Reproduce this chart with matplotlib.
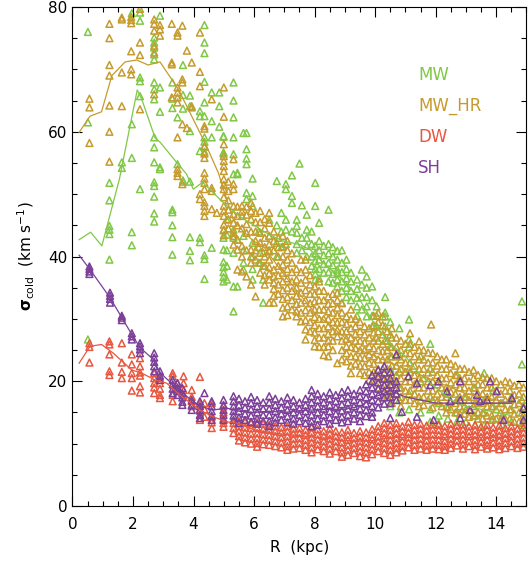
import numpy as np
import matplotlib
matplotlib.use("Agg")
import matplotlib.pyplot as plt
from matplotlib.ticker import MultipleLocator

# cold-gas velocity dispersion vs radius, four runs
# each entry: (R [kpc], [sigma values at that radius])
mw_cols = [
    (0.51, [76, 61.5, 26.7]),
    (1.22, [51.8, 49, 44.9, 44.3, 43.6, 39.5]),
    (1.63, [55.1, 54.2]),
    (1.96, [79, 61.2, 55.8, 43.9, 41.8]),
    (2.23, [79.1, 77.8, 68.7, 68.1, 65.7, 50.8]),
    (2.7, [75.1, 74.3, 73.5, 72.4, 71.6, 67.9, 66.8, 65.2, 59.1, 57.5, 55.1, 51.9, 51.3, 49.6, 46.9, 45.6]),
    (2.89, [78.6, 67.1, 63.2, 54.3, 54]),
    (3.3, [67.9, 65.3, 63.8, 47.5, 47.1, 45, 43.1, 40.3]),
    (3.47, [62.3, 54.8]),
    (3.65, [70.7, 65.9, 63.7, 52.2, 52]),
    (3.88, [65.8, 64.1, 60.1, 52, 43.1, 40.9, 39.4]),
    (4.21, [63.3, 62.5, 56.9, 43, 42.3]),
    (4.36, [77.1, 74.3, 72.6, 68, 64.7, 62.5, 59.1, 58.4, 57.6, 56.8, 40.2, 39.6, 36.4]),
    (4.6, [66.3, 61.7, 59.1, 41.4]),
    (4.85, [66.3, 64.1, 60.8]),
    (4.99, [59.3, 59.2, 56.7, 56.5, 44.2, 43, 41.1, 39.1, 38.3, 37.5, 36.7, 36]),
    (5.1, [45.9, 43.5, 41, 38.5, 36.3]),
    (5.32, [67.9, 65, 62.3, 59.1, 56.4, 53.2, 44.3, 43, 40.6, 35.2, 31.2]),
    (5.45, [53.4, 53.2, 42.7, 35.2]),
    (5.65, [59.8, 43.3, 41, 39, 37.9]),
    (5.75, [59.8, 57.2, 55.7, 54.8, 50.2, 49.2]),
    (5.95, [52.5, 49.7, 48.1, 42.2, 40, 38, 36.3]),
    (6.15, [44, 41.5, 39]),
    (6.3, [40.6, 38.5, 36.3, 32.6]),
    (6.5, [45.9, 43.3, 41]),
    (6.75, [52.1, 45, 42.2, 40]),
    (6.9, [47, 44, 41.5]),
    (7.05, [51.6, 50.8, 45.9, 44.3, 42]),
    (7.25, [53, 49.7, 48.6, 44]),
    (7.41, [45.9, 44.9, 43.8, 42, 40.6]),
    (7.5, [54.9]),
    (7.58, [48.2, 43, 41]),
    (7.74, [46.7, 44.3, 43, 41.7, 40]),
    (7.9, [44, 42, 40, 38.5]),
    (8.02, [51.8, 48.1, 41.7, 40.5, 39.3, 38, 37.2, 36.3]),
    (8.15, [45.4, 42.5, 41, 39.5, 38, 36.5]),
    (8.3, [41.7, 40.2, 38.8, 37.4]),
    (8.46, [47.5, 42, 40.5, 39, 37.5, 36]),
    (8.6, [41.5, 40, 38.6, 37.2, 35.8]),
    (8.75, [40.9, 39.5, 37.9, 37.4, 36.3, 35.2]),
    (8.9, [41, 39, 37.5, 36, 34.5, 32.6]),
    (9.05, [39.5, 38, 36.5, 35, 33.5]),
    (9.2, [37.4, 36, 34.5, 33]),
    (9.4, [36.3, 34.8, 33.4, 32, 30.5]),
    (9.56, [37.9, 35.5, 33.5, 31.5]),
    (9.72, [36.8, 35, 33.5, 32, 30.4]),
    (9.9, [35.2, 33, 30.5, 28.8]),
    (10.05, [32, 30.5, 28.8, 27]),
    (10.33, [33.5, 31, 30.4, 28.8, 26.5]),
    (10.5, [29.5, 27.5, 25.5, 24, 22, 20, 18, 16]),
    (10.8, [28.5, 24, 21.5, 19, 17, 15]),
    (11.12, [29.9, 26.7, 25.5, 22, 18, 15.5]),
    (11.5, [24, 20, 17, 15]),
    (11.82, [26, 22, 17.5, 15.5, 13.5]),
    (12.1, [20, 16.5, 14.5, 13.3]),
    (12.4, [18, 15.8, 14]),
    (12.7, [21, 17, 15, 13.5]),
    (13.0, [17.5, 15.5, 13.5]),
    (13.3, [19, 16.5, 14.5, 13]),
    (13.6, [21.3, 17, 15, 13]),
    (13.9, [18.5, 16, 14]),
    (14.2, [16.5, 14.5, 13]),
    (14.5, [17.5, 15.5, 13.5]),
    (14.85, [32.8, 22.7, 17, 15, 13]),
]

hr_cols = [
    (0.56, [65.3, 63.9, 58.2]),
    (1.22, [77.3, 75, 70.7, 69, 64.2, 60, 55.2]),
    (1.63, [78.3, 78, 69.5, 64.1]),
    (1.94, [78.4, 77.9, 77.4, 72.9, 70, 69.2]),
    (2.23, [79.7, 74.3, 72.3, 63.6]),
    (2.7, [78, 77.3, 76.2, 73.8, 72.7, 66]),
    (2.89, [77.1, 76.4, 75.4]),
    (3.28, [77.3, 71.1, 70.8, 65.5]),
    (3.47, [75.9, 75.4, 67.1, 66.3, 65.5, 64.7, 59.1, 54, 53.4, 52.9]),
    (3.63, [77, 68.4, 67.9, 61.2, 51.6]),
    (3.78, [73, 60.6]),
    (3.94, [71.1, 64.1, 63.9]),
    (4.21, [75.9, 69.6, 67.3, 50, 49.2]),
    (4.36, [60.9, 60.5, 57.7, 56.5, 55.8, 53.4, 52.5, 51.8, 50.8, 48.7, 48.1, 47.3, 46.5]),
    (4.6, [65.2, 51, 50.5, 47.6]),
    (4.77, [47]),
    (5.0, [67.1, 62.4, 58, 56.1, 55.3, 54.5, 53.7, 52.4, 51.5, 50.8, 49.5, 48.1, 47.3, 46.5, 45.1, 44.3, 43.4]),
    (5.15, [52, 50.5, 49, 47.5, 46, 44.5]),
    (5.32, [55.6, 51.6, 50.8, 48.1, 46.8, 45.4, 43.8, 43.3, 41.9]),
    (5.45, [48, 46.5, 45, 42.7, 41.1, 37.9]),
    (5.6, [48.1, 47.2, 46.5, 44.5, 41.7, 40, 37.6]),
    (5.75, [48, 46.7, 45.2, 43.8, 41, 36.8]),
    (5.9, [48.6, 47.3, 46, 44, 41.1, 40, 39, 35.5]),
    (6.05, [47, 45.5, 44, 42.5, 41, 39.5, 33.6]),
    (6.2, [47.3, 45.5, 43.8, 42.2, 40.6, 39, 37.4]),
    (6.35, [46, 44.5, 43, 41.5, 40, 38.5, 37, 35.5]),
    (6.5, [47, 45.4, 43.3, 42, 40.8, 39.5, 38.3, 37.3, 36.3, 32.6]),
    (6.65, [44, 42.5, 41, 37.9, 36.8, 35.8, 34.8, 33.7, 32.6]),
    (6.8, [43, 41.5, 40, 38.5, 37, 35.5, 34]),
    (6.95, [43.3, 41.6, 40, 38.7, 37.4, 36, 34.6, 33.2, 31.8, 30.4]),
    (7.1, [42.5, 41, 39.5, 38, 36.5, 35, 33.5, 32, 30.6]),
    (7.25, [40.5, 39, 37.5, 36, 34.5, 33, 31.5]),
    (7.4, [38, 36.3, 35, 33.7, 32.4, 31.2, 30.4]),
    (7.55, [39.5, 37.5, 35.8, 34.2, 32.6, 31, 29.6]),
    (7.7, [39.5, 37.9, 36.3, 34.6, 33, 31.4, 29.8, 28.3, 26.7]),
    (7.85, [37, 35.5, 34, 32.5, 31, 29.5, 28]),
    (8.0, [35.2, 34, 32.8, 31.5, 30.3, 29, 27.8, 26.6, 25.6]),
    (8.15, [36, 34.5, 33, 31.5, 30, 28.5, 27, 25.5]),
    (8.3, [34.5, 33, 31.5, 30, 28.5, 27, 25.5, 24.2]),
    (8.45, [33.6, 32.4, 31.2, 30, 28.8, 27.6, 26.5, 25.6, 24]),
    (8.6, [34, 32.5, 31, 29.5, 28, 26.5, 25]),
    (8.75, [34.2, 33, 31.8, 30.6, 29.4, 28.2, 27.2, 22.9]),
    (8.9, [32.5, 31, 29.5, 28, 26.5, 25, 23.5]),
    (9.05, [30.4, 29.2, 28, 26.8, 25.6, 24.5, 23.2]),
    (9.2, [31.5, 30, 28.5, 27, 25.5, 24, 22.5, 21.3]),
    (9.35, [30, 28.8, 27.6, 26.5, 25.3, 24, 22.8]),
    (9.5, [29.5, 28, 26.5, 25, 23.8, 22.5, 21.3]),
    (9.65, [28.8, 27.5, 26.2, 25, 23.7, 22.4, 21]),
    (9.8, [28.5, 27, 25.6, 24.3, 23, 21.5, 20.2]),
    (9.95, [30.5, 29, 27.8, 26.5, 25.3, 24, 22.8, 21.5, 20.2]),
    (10.1, [31, 29.5, 28, 26.5, 25, 23.5, 22, 20.5, 19]),
    (10.25, [30.4, 29, 27.5, 26, 24.8, 23.5, 22, 20.5, 19, 17.5]),
    (10.4, [28, 26.5, 25, 23.5, 22, 20.5, 19, 17.8]),
    (10.55, [28.5, 27, 25.5, 24, 22.5, 21, 19.5, 18, 16.5]),
    (10.7, [27, 25.5, 24, 22.5, 21, 19.5, 18]),
    (10.85, [26.5, 25, 23.5, 22, 20.5, 19, 17.5, 16]),
    (11.0, [26, 24.5, 23, 21.5, 20, 18.5, 17]),
    (11.15, [27.7, 26, 24.5, 23, 21.5, 20, 18.5, 17]),
    (11.3, [25.5, 24, 22.5, 21, 19.5, 18, 16.5]),
    (11.45, [26.4, 25, 23.5, 22, 20.5, 19, 17.5, 16]),
    (11.6, [25, 23.5, 22, 20.5, 19, 17.5, 16.2]),
    (11.75, [24.6, 23, 21.4, 20, 18.5, 17]),
    (11.85, [29.1]),
    (11.9, [24.5, 23, 21.5, 20, 18.5, 17, 15.8]),
    (12.05, [24, 22.5, 21, 19.5, 18, 16.8]),
    (12.2, [23.5, 22, 20.5, 19, 17.5, 16]),
    (12.35, [23.5, 22, 20.5, 19, 17.5, 16, 15]),
    (12.5, [22.8, 21.3, 19.8, 18.3, 16.8, 15.5]),
    (12.65, [24.5, 22.5, 21, 19.5, 18, 16.5, 15]),
    (12.8, [22, 20.5, 19, 17.5, 16, 14.8]),
    (12.95, [22, 20.5, 19, 17.5, 16, 14.8]),
    (13.1, [21.5, 20, 18.5, 17, 15.5, 14.3]),
    (13.25, [21.8, 20.5, 19, 17.5, 16, 14.5]),
    (13.4, [21, 19.5, 18, 16.5, 15, 14]),
    (13.55, [20.7, 19.5, 18, 16.5, 15, 14]),
    (13.7, [20.5, 19, 17.5, 16, 14.5]),
    (13.85, [20.5, 19, 17.5, 16, 14.5, 13.8]),
    (14.0, [20, 18.5, 17, 15.5, 14]),
    (14.15, [19.5, 18, 16.5, 15, 13.8]),
    (14.3, [20, 18.5, 17, 15.5, 14]),
    (14.45, [19.8, 18.5, 17, 15.5, 14]),
    (14.6, [19.3, 17.8, 16.3, 14.8, 13.5]),
    (14.75, [19.5, 18, 16.5, 15, 13.5]),
    (14.9, [19, 17.5, 16, 14.5, 13.3]),
]

dw_cols = [
    (0.56, [26.1, 25.5, 23]),
    (1.22, [26.4, 25.9, 24.3, 21.6, 21]),
    (1.63, [26.1, 23, 21.5, 20.5]),
    (1.96, [24.3, 22.7, 21.3, 20.5, 18.5]),
    (2.23, [23.7, 22.4, 21.4, 20.9, 19.2, 18.2]),
    (2.7, [21.3, 20.5, 19.7, 19, 18.1]),
    (2.89, [20.6, 19.7, 18.8, 17.8, 17.3]),
    (3.31, [21.3, 20.8, 17.8, 16.8]),
    (3.47, [19.7, 18.9]),
    (3.67, [20.8, 19.7, 18.6, 17.8]),
    (3.94, [18.6, 17.5, 16.8, 16]),
    (4.21, [20.7, 16.5, 15.5, 14.6, 13.8]),
    (4.36, [16.5, 15.5, 14.3]),
    (4.6, [16.5, 14.3, 13.4, 12.5]),
    (4.99, [16, 15, 14, 13.3, 12.7]),
    (5.32, [13.3, 12.5, 11.7]),
    (5.5, [13.6, 12.8, 12, 11.2, 10.5]),
    (5.7, [13.5, 12.6, 11.8, 11, 10.2]),
    (5.9, [13.3, 12.5, 11.6, 10.8, 10]),
    (6.1, [13.4, 12.5, 11.7, 10.9, 10.1, 9.5]),
    (6.3, [13.2, 12.3, 11.5, 10.7, 9.9]),
    (6.5, [13, 12.2, 11.4, 10.6, 9.8]),
    (6.7, [12.8, 12, 11.2, 10.4, 9.6]),
    (6.9, [12.6, 11.8, 11, 10.2, 9.4]),
    (7.1, [12.8, 12, 11.2, 10.4, 9.6, 9]),
    (7.3, [12.4, 11.6, 10.8, 10, 9.2]),
    (7.5, [12.5, 11.7, 10.9, 10.1, 9.3]),
    (7.7, [12.2, 11.4, 10.6, 9.8, 9]),
    (7.9, [12.6, 11.8, 11, 10.2, 9.4, 8.6]),
    (8.1, [12.3, 11.5, 10.7, 9.9, 9.1]),
    (8.3, [12, 11.2, 10.4, 9.6, 8.8]),
    (8.5, [12.4, 11.6, 10.8, 10, 9.2, 8.4]),
    (8.7, [12, 11.2, 10.4, 9.6, 8.8]),
    (8.9, [11.8, 11, 10.2, 9.4, 8.6, 7.9]),
    (9.1, [12.2, 11.4, 10.6, 9.8, 9, 8.2]),
    (9.3, [11.7, 10.9, 10.1, 9.3, 8.5]),
    (9.5, [12, 11.2, 10.4, 9.6, 8.8, 8]),
    (9.7, [11.8, 11, 10.2, 9.4, 8.6, 7.8]),
    (9.9, [12.3, 11.5, 10.7, 9.9, 9.1, 8.3]),
    (10.1, [12.8, 12, 11.2, 10.4, 9.6, 8.8]),
    (10.3, [13.3, 12.5, 11.7, 10.9, 10.1, 9.3, 8.5]),
    (10.5, [13, 12.2, 11.4, 10.6, 9.8, 9, 8.2]),
    (10.7, [13.3, 12.5, 11.7, 10.9, 10.1, 9.3, 8.6]),
    (10.9, [12.8, 12, 11.2, 10.4, 9.6, 8.9]),
    (11.1, [13.5, 12.6, 11.8, 11, 10.2, 9.4]),
    (11.3, [13, 12.2, 11.4, 10.6, 9.8, 9]),
    (11.5, [13.2, 12.4, 11.6, 10.8, 10, 9.2]),
    (11.7, [12.9, 12.1, 11.3, 10.5, 9.7, 9]),
    (11.9, [13.1, 12.3, 11.5, 10.7, 9.9, 9.2]),
    (12.1, [13, 12.2, 11.4, 10.6, 9.8, 9.1]),
    (12.3, [12.8, 12, 11.2, 10.4, 9.6, 9]),
    (12.5, [13.2, 12.4, 11.6, 10.8, 10, 9.3]),
    (12.7, [12.9, 12.1, 11.3, 10.5, 9.7]),
    (12.9, [13.1, 12.3, 11.5, 10.7, 9.9, 9.2]),
    (13.1, [12.8, 12, 11.2, 10.4, 9.6]),
    (13.3, [13, 12.2, 11.4, 10.6, 9.8, 9.1]),
    (13.5, [12.7, 11.9, 11.1, 10.3, 9.5]),
    (13.7, [13, 12.2, 11.4, 10.6, 9.8, 9.2]),
    (13.9, [12.6, 11.8, 11, 10.2, 9.4]),
    (14.1, [12.9, 12.1, 11.3, 10.5, 9.7, 9.1]),
    (14.3, [12.5, 11.7, 10.9, 10.1, 9.3]),
    (14.5, [12.8, 12, 11.2, 10.4, 9.6]),
    (14.7, [12.4, 11.6, 10.8, 10, 9.3]),
    (14.9, [12.6, 11.8, 11, 10.2, 9.5]),
]

sh_cols = [
    (0.56, [38.4, 38, 37.6, 37.2]),
    (1.24, [34.2, 33.7, 33.2, 32.6]),
    (1.63, [30.5, 30.2, 29.8]),
    (1.96, [27.7, 27.2, 26.7]),
    (2.23, [26.1, 25.6, 25.1, 24.5]),
    (2.7, [24.5, 23.8, 23.1, 22.4, 21.6]),
    (2.89, [21.6, 20.9, 20.2]),
    (3.31, [20.2, 19.5, 18.8, 18.1]),
    (3.47, [19.7, 19, 18.4, 17.8]),
    (3.63, [18.9, 18.1, 17.4, 16.7, 16.2]),
    (3.94, [17, 16.2, 15.4]),
    (4.21, [16.8, 16, 15.3, 14.6, 14.1]),
    (4.36, [18.1]),
    (4.6, [16.8, 16, 15.2, 14.5, 13.8]),
    (4.99, [17, 16.2, 15.4, 14.6, 13.8]),
    (5.32, [17.6, 16.8, 16, 15.2, 14.5, 13.8]),
    (5.5, [17.2, 16.2, 15.2, 14.2, 13.3]),
    (5.7, [16.8, 15.8, 14.8, 13.8]),
    (5.9, [17.5, 16.5, 15.5, 14.5, 13.5]),
    (6.1, [17, 16, 15, 14, 13.2]),
    (6.3, [16.6, 15.6, 14.6, 13.6]),
    (6.5, [17.6, 16.6, 15.6, 14.6, 13.6, 12.8]),
    (6.7, [17.2, 16.2, 15.2, 14.2, 13.4]),
    (6.9, [16.8, 15.8, 14.8, 13.8]),
    (7.1, [17.4, 16.4, 15.4, 14.4, 13.4]),
    (7.3, [17, 16, 15, 14, 13.2]),
    (7.5, [16.6, 15.6, 14.6, 13.6]),
    (7.7, [17.2, 16.2, 15.2, 14.2, 13.3]),
    (7.9, [18.6, 17.6, 16.6, 15.6, 14.6, 13.6, 12.8]),
    (8.1, [18, 17, 16, 15, 14, 13]),
    (8.3, [17.6, 16.6, 15.6, 14.6, 13.6]),
    (8.5, [18.2, 17.2, 16.2, 15.2, 14.2, 13.2]),
    (8.7, [17.8, 16.8, 15.8, 14.8, 13.8]),
    (8.9, [18.3, 17.3, 16.3, 15.3, 14.3, 13.4]),
    (9.1, [18.6, 17.6, 16.6, 15.6, 14.6, 13.6]),
    (9.3, [18, 17, 16, 15, 14]),
    (9.5, [18.6, 17.6, 16.6, 15.6, 14.6, 13.6]),
    (9.7, [19.5, 18.4, 17.4, 16.4, 15.4, 14.4]),
    (9.9, [21, 20, 19, 18, 17, 16, 15, 14.3]),
    (10.1, [21.8, 20.8, 19.8, 18.8, 17.8, 16.8, 15.8]),
    (10.3, [22.4, 21.4, 20.4, 19.4, 18.4, 17.4, 16.4]),
    (10.5, [21.5, 20.5, 19.5, 18.5, 17.5, 16.5, 14.1]),
    (10.7, [24.3, 20, 19, 18, 17]),
    (10.88, [15.1]),
    (11.1, [20.8]),
    (11.38, [19.7, 14.3]),
    (11.82, [19.4]),
    (11.93, [13.8]),
    (12.09, [20]),
    (12.37, [18.4]),
    (12.48, [16.8]),
    (12.81, [20, 17, 14.1]),
    (13.14, [15.4]),
    (13.36, [17.8]),
    (13.47, [16.8]),
    (13.7, [17]),
    (13.8, [20]),
    (14.02, [18.4]),
    (14.24, [13.8]),
    (14.52, [17.3]),
    (14.9, [13.8, 15.7]),
]

# running medians
mw_med_r = [0.22, 0.6, 0.97, 1.55, 2.14, 2.29, 2.73, 2.9, 3.49, 3.77, 3.99, 4.3, 4.97, 5.5, 6.0, 6.5, 6.96,
            7.52, 7.85, 8.5, 9.0, 9.5, 10.0, 10.5, 11.0, 11.5, 12.0, 12.5, 13.0, 13.5, 14.0, 14.5]
mw_med_s = [42.7, 43.9, 41.7, 52.4, 66.7, 65.2, 59.0, 58.3, 54.8, 53.2, 50.8, 51.9, 48.7, 46.5, 45.0, 43.5, 42.5,
            41.9, 41.1, 38.0, 36.0, 33.0, 29.0, 26.0, 24.0, 21.0, 19.0, 17.0, 16.0, 15.5, 15.0, 14.5]
hr_med_r = [0.22, 0.58, 0.96, 1.3, 1.74, 2.12, 2.5, 2.89, 3.5, 3.99, 4.43, 4.82, 5.04, 5.31, 5.59, 5.97, 6.3,
            7.0, 7.5, 8.0, 8.5, 9.0, 9.5, 10.0, 10.5, 11.0, 11.5, 12.0, 12.5, 13.0, 13.5, 14.0, 14.5]
hr_med_s = [59.9, 62.5, 63.2, 69.0, 71.2, 71.5, 70.7, 71.2, 66.8, 62.0, 57.7, 53.4, 50.0, 46.0, 44.3, 42.5, 41.7,
            37.0, 34.0, 31.0, 29.0, 27.0, 25.0, 24.0, 23.0, 22.0, 21.0, 20.0, 19.0, 18.0, 17.5, 17.0, 16.5]
dw_med_r = [0.22, 0.58, 0.96, 1.35, 1.96, 2.29, 2.73, 3.11, 3.55, 4.21, 4.65, 5.1, 5.5, 6.0, 6.5, 7.0, 7.5,
            8.0, 8.5, 9.0, 9.5, 10.0, 10.5, 11.0, 11.5, 12.0, 12.5, 13.0, 13.5, 14.0, 14.5]
dw_med_s = [22.9, 25.6, 25.9, 24.5, 21.8, 21.3, 20.2, 19.7, 17.8, 15.4, 14.3, 13.5, 13.2, 12.2, 11.8, 11.5, 11.3,
            11.0, 10.8, 10.5, 10.4, 10.5, 11.0, 11.0, 11.0, 11.0, 11.0, 11.0, 11.0, 11.0, 11.0]
sh_med_r = [0.22, 0.58, 1.24, 1.63, 1.96, 2.23, 2.67, 2.89, 3.33, 3.77, 4.21, 4.65, 5.1, 5.5, 6.0, 6.5, 7.0,
            7.5, 8.0, 8.5, 9.0, 9.5, 10.0, 10.5, 11.0, 11.5, 12.0, 12.5, 13.0, 13.5, 14.0, 14.5]
sh_med_s = [40.2, 37.9, 33.4, 30.2, 27.5, 25.4, 23.5, 21.4, 19.4, 17.6, 16.0, 15.4, 15.7, 15.2, 15.0, 15.2, 15.0,
            15.3, 15.4, 15.5, 15.5, 16.0, 17.5, 18.5, 17.5, 17.0, 16.5, 16.5, 16.5, 16.5, 16.5, 16.5]

names = ['MW', 'MW_HR', 'DW', 'SH']
colors = ['#80c846', '#c69b2e', '#e8573f', '#7b3f98']


def expand(cols):
    r = [c[0] for c in cols for _ in c[1]]
    s = [v for c in cols for v in c[1]]
    return np.array(r), np.array(s)


plt.rcParams['font.family'] = 'DejaVu Sans'
fig = plt.figure(figsize=(5.31, 5.64), dpi=100)
ax = fig.add_axes([0.1365, 0.1028, 0.855, 0.8848])

series = [mw_cols, hr_cols, dw_cols, sh_cols]
medians = [(mw_med_r, mw_med_s), (hr_med_r, hr_med_s), (dw_med_r, dw_med_s), (sh_med_r, sh_med_s)]
for cols, (mr, ms), col in zip(series, medians, colors):
    r, s = expand(cols)
    ax.scatter(r, s, marker='^', s=24, facecolors='none', edgecolors=col, linewidths=1.1)
    ax.plot(mr, ms, color=col, lw=0.9)

# text legend
for i, (nm, col) in enumerate(zip(names, colors)):
    ax.text(11.42, 69.1 - i * 4.95, nm, color=col, fontsize=12, va='center', ha='left')

ax.set_xlim(0, 15)
ax.set_ylim(0, 80)
ax.xaxis.set_major_locator(MultipleLocator(2))
ax.xaxis.set_minor_locator(MultipleLocator(0.5))
ax.yaxis.set_major_locator(MultipleLocator(20))
ax.yaxis.set_minor_locator(MultipleLocator(5))
ax.tick_params(which='both', direction='in', top=True, right=True, width=0.8, labelsize=11)
ax.tick_params(which='major', length=7)
ax.tick_params(which='minor', length=3.5)
ax.tick_params(axis='x', pad=8)
for sp in ax.spines.values():
    sp.set_linewidth(0.8)

ax.set_xlabel('R  (kpc)', fontsize=11, labelpad=6)
ax.set_ylabel(r'$\mathbf{\sigma}_{\rm cold}$  (km s$^{-1}$)', fontsize=11, labelpad=8)

fig.savefig('out.png', dpi=100)
